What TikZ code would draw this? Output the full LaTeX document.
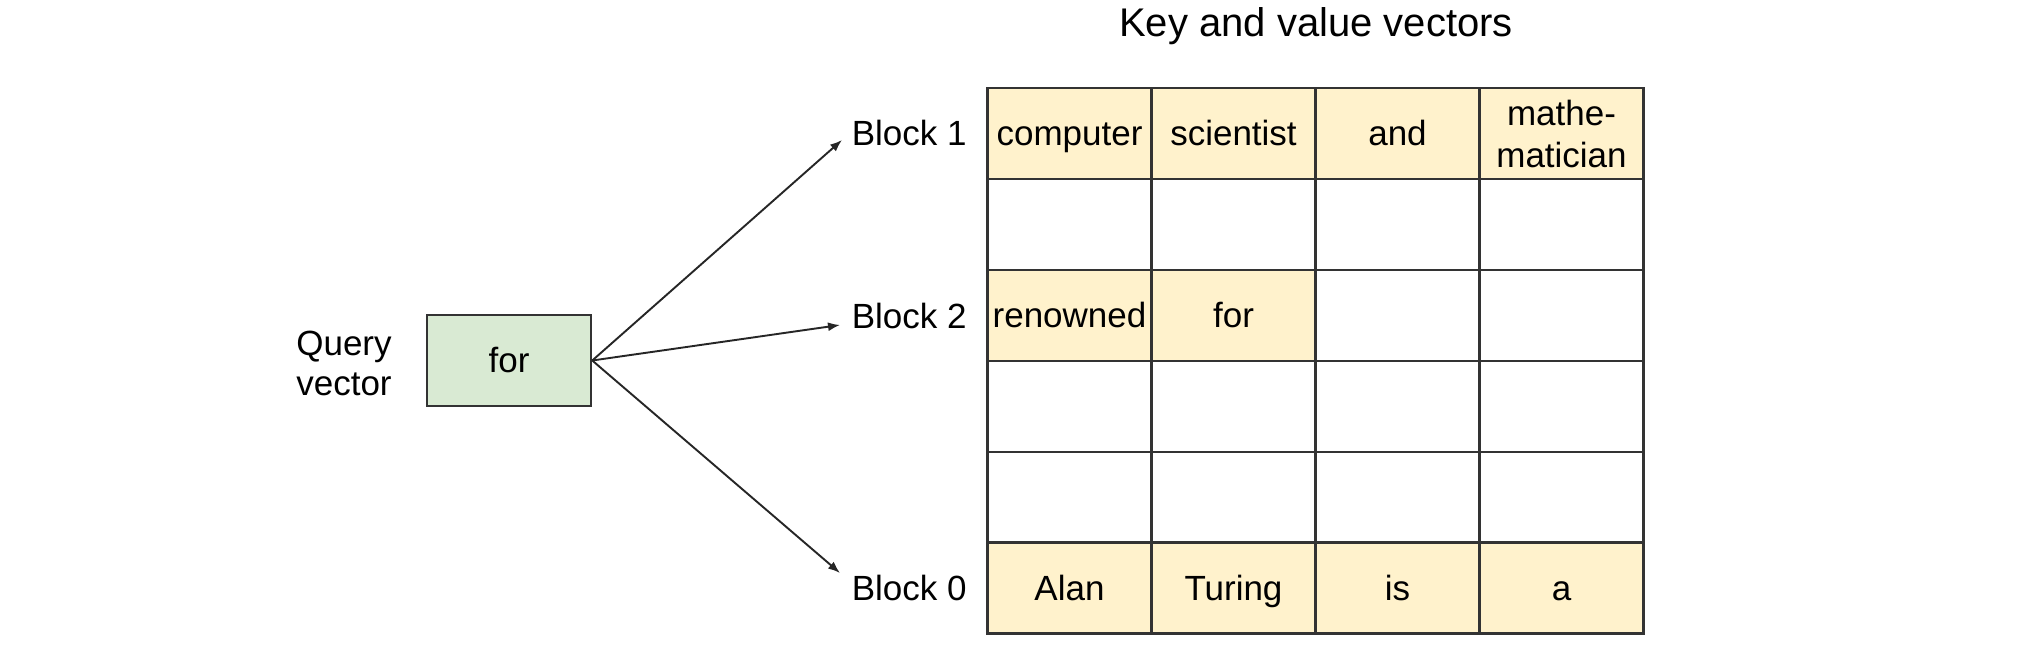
\documentclass[tikz,border=0pt]{standalone}
\usepackage{fontspec}
\setmainfont{Liberation Sans}
\usetikzlibrary{arrows.meta}
\definecolor{cellyellow}{HTML}{FFF2CC}
\definecolor{qgreen}{HTML}{D9EAD3}
\definecolor{edgegray}{HTML}{333333}
\begin{document}
\begin{tikzpicture}[x=0.5pt,y=-0.5pt,
  cell/.style={draw=edgegray,line width=1.25pt,minimum width=82pt,minimum height=45.4pt,inner sep=0pt,
    font=\fontsize{17.5}{21}\selectfont,align=center},
  hl/.style={cell,fill=cellyellow},
  one/.style={text height=12.3pt,text depth=0.3pt},
  lbl/.style={font=\fontsize{17.5}{20}\selectfont,align=center,inner sep=0pt},
  arr/.style={-{Latex[length=6pt,width=4.5pt]},line width=0.95pt,draw=black!85}]
\useasboundingbox[fill=white] (0,0) rectangle (2033,647);
% title
\node[font=\fontsize{20}{24}\selectfont] (title) at (1316,26) {Key and value vectors};
% row 1
\node[hl,one] (c11) at (1069.5,133.5) {computer};
\node[hl,one] (c12) at (1233.5,133.5) {scientist};
\node[hl,one] (c13) at (1397.5,133.5) {and};
\node[hl] (c14) at (1561.5,133.5) {mathe-\\matician};
% row 2
\node[cell] (c21) at (1069.5,224.5) {};
\node[cell] (c22) at (1233.5,224.5) {};
\node[cell] (c23) at (1397.5,224.5) {};
\node[cell] (c24) at (1561.5,224.5) {};
% row 3
\node[hl,one] (c31) at (1069.5,315.5) {renowned};
\node[hl,one] (c32) at (1233.5,315.5) {for};
\node[cell] (c33) at (1397.5,315.5) {};
\node[cell] (c34) at (1561.5,315.5) {};
% row 4
\node[cell] (c41) at (1069.5,406.5) {};
\node[cell] (c42) at (1233.5,406.5) {};
\node[cell] (c43) at (1397.5,406.5) {};
\node[cell] (c44) at (1561.5,406.5) {};
% row 5
\node[cell] (c51) at (1069.5,497.5) {};
\node[cell] (c52) at (1233.5,497.5) {};
\node[cell] (c53) at (1397.5,497.5) {};
\node[cell] (c54) at (1561.5,497.5) {};
% row 6
\node[hl,one] (c61) at (1069.5,588) {Alan};
\node[hl,one] (c62) at (1233.5,588) {Turing};
\node[hl,one] (c63) at (1397.5,588) {is};
\node[hl,one] (c64) at (1561.5,588) {a};
% block labels
\node[lbl,one,anchor=east] (b1) at (967,134) {Block 1};
\node[lbl,one,anchor=east] (b2) at (967,316) {Block 2};
\node[lbl,one,anchor=east] (b0) at (967,588) {Block 0};
% query
\node[draw=edgegray,line width=1.25pt,fill=qgreen,minimum width=82pt,minimum height=45.5pt,inner sep=0pt,
  font=\fontsize{17.5}{21}\selectfont,one] (q) at (509,360.5) {for};
\node[lbl] (ql) at (344,363) {Query\\vector};
% arrow ends
\coordinate (t1) at (842,140);
\coordinate (t2) at (840,325);
\coordinate (t0) at (840,573);
\draw[arr] (q.east) -- (t1);
\draw[arr] (q.east) -- (t2);
\draw[arr] (q.east) -- (t0);
\end{tikzpicture}
\end{document}
